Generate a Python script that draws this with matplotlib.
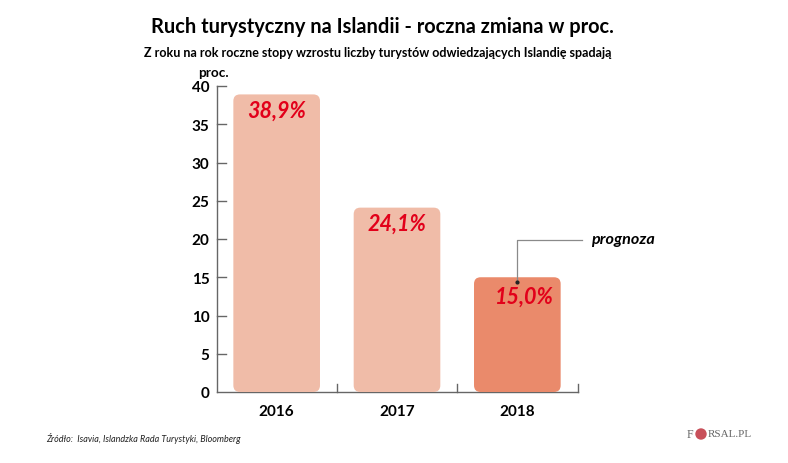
import matplotlib
matplotlib.use('Agg')
from matplotlib import pyplot as plt
from matplotlib.patches import FancyBboxPatch, Circle

plt.rcParams['font.family'] = ['Lato', 'DejaVu Sans']

# dane
years = ['2016', '2017', '2018']
values = [38.9, 24.1, 15.0]
labels = ['38,9%', '24,1%', '15,0%']
bar_colors = ['#f0bca8', '#f0bca8', '#ea8a6b']
y_ticks = [0, 5, 10, 15, 20, 25, 30, 35, 40]

W, H = 788, 464
fig = plt.figure(figsize=(W / 100, H / 100), dpi=100)

# os wykresu w pikselach obrazka
left, right, top, bottom = 216.5, 577.5, 87, 393
ax = fig.add_axes([left / W, 1 - bottom / H, (right - left) / W, (bottom - top) / H])
ax.set_xlim(0, 3)
ax.set_ylim(0, 40)
ax.patch.set_alpha(0)

bar_w = 0.72
aspect = ((right - left) / 3) / ((bottom - top) / 40)
label_x = [0.5, 1.5, 2.56]
label_y = [36.9, 22.1, 12.5]
for i, v in enumerate(values):
    box = FancyBboxPatch((i + 0.5 - bar_w / 2, 0), bar_w, v,
                         boxstyle='round,pad=0,rounding_size=0.055',
                         mutation_aspect=aspect, fc=bar_colors[i], ec='none', zorder=3)
    ax.add_patch(box)
    ax.text(label_x[i], label_y[i], labels[i], color='#e2001a', fontsize=15.5,
            fontweight='bold', fontstyle='italic', ha='center', va='center', zorder=5)

for s in ['top', 'right']:
    ax.spines[s].set_visible(False)
for s in ['left', 'bottom']:
    ax.spines[s].set_color('#666666')
    ax.spines[s].set_linewidth(1.0)
    ax.spines[s].set_zorder(1)

ax.set_yticks(y_ticks)
ax.tick_params(axis='y', length=0, labelsize=11, pad=5, labelcolor='black')
for label in ax.get_yticklabels():
    label.set_fontweight('bold')
# kreski skali do srodka osi
for t in y_ticks[1:]:
    ax.plot([0, 0.075], [t, t], color='#666666', lw=1.0, zorder=1, clip_on=False)
for k in [1, 2, 3]:
    ax.plot([k, k], [0, 1.05], color='#666666', lw=1.0, zorder=1, clip_on=False)

ax.set_xticks([0.5, 1.5, 2.5])
ax.set_xticklabels(years, fontsize=11, fontweight='bold')
ax.tick_params(axis='x', length=0, pad=9)

# linia do prognozy
ax.plot([2.5, 2.5, 3.04], [14.4, 19.9, 19.9], color='#8a8a8a', lw=0.9, zorder=4, clip_on=False)
ax.plot([2.5], [14.4], 'o', color='#222222', ms=2, zorder=5)

def px_text(x, y, s, **kw):
    fig.text(x / W, 1 - y / H, s, **kw)

px_text(382, 27, 'Ruch turystyczny na Islandii - roczna zmiana w proc.', fontsize=14.4,
        fontweight='bold', ha='center', va='center')
px_text(378, 53, 'Z roku na rok roczne stopy wzrostu liczby turystów odwiedzających Islandię spadają',
        fontsize=9.0, fontweight='bold', ha='center', va='center')
px_text(213, 73, 'proc.', fontsize=9.8, fontweight='bold', ha='center', va='center')
px_text(623, 240, 'prognoza', fontsize=11.6, fontweight='bold', fontstyle='italic',
        ha='center', va='center')
px_text(46, 439, 'Źródło:  Isavia, Islandzka Rada Turystyki, Bloomberg', fontsize=6.45,
        fontstyle='italic', ha='left', va='center', color='#222222')

# logo
px_text(687, 435, 'F', fontsize=8.5, family='Liberation Serif', color='#666666', ha='left', va='center')
px_text(708, 435, 'RSAL.PL', fontsize=8, family='Liberation Serif', color='#666666', ha='left', va='center')
logo = fig.add_axes([695 / W, 1 - 441 / H, 12 / W, 12 / H])
logo.axis('off')
logo.set_xlim(-1, 1)
logo.set_ylim(-1, 1)
logo.add_patch(Circle((0, 0), 0.95, fc='#c8505a', ec='none'))

fig.savefig('out.png', dpi=100, facecolor='white')
